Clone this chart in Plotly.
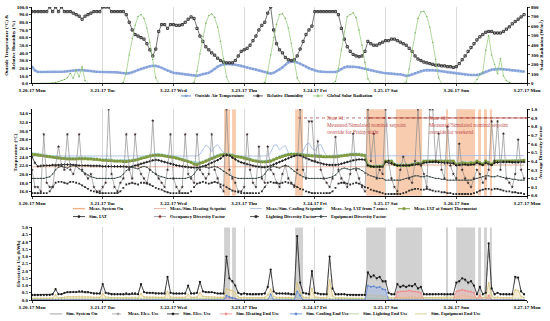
import pandas as pd
import plotly.graph_objects as go

FONT = "Liberation Serif"
START = pd.Timestamp("2017-03-20 00:00")
HOURS = pd.date_range(START, periods=168, freq="h")
DAY_TICKS = pd.date_range(START, periods=8, freq="D")
DAY_LABELS = ["3-20-17 Mon", "3-21-17 Tue", "3-22-17 Wed", "3-23-17 Thu",
              "3-24-17 Fri", "3-25-17 Sat", "3-26-17 Sun", "3-27-17 Mon"]

# ---------------- Panel 1 data (hourly) ----------------
OAT = [
    22, 17, 15, 15, 15, 15, 15, 15, 15, 15, 15, 15.5, 16, 16.5, 17, 17.5, 17.5, 17.5, 17, 16.5, 16, 15.5, 15, 15,
    15, 15, 15, 15, 15, 14.5, 14, 13.5, 13, 13.5, 14.5, 16, 17.5, 19, 20.5, 21.5, 22.5, 23, 23, 22, 20.5, 18.5, 16.5, 15,
    14, 13.5, 13, 12.5, 12, 11.5, 11, 10.5, 10, 11, 12.5, 13, 14, 16, 19, 22, 24, 25, 25.5, 25.5, 25, 24.5, 24, 23,
    22, 21, 20, 19, 18, 17, 16, 15, 13.5, 13, 14, 16, 18, 21, 24.5, 27.5, 28.5, 28.5, 27.5, 26, 24, 22, 20, 18.5,
    17, 16, 15.5, 15, 15, 15, 15, 15, 16.5, 19, 21, 22, 22, 22, 21.5, 21, 20, 19, 18, 17, 16, 15, 14.5, 14,
    13.5, 13, 13, 12.5, 12, 12, 11, 10, 10.5, 12, 13.5, 15, 16.5, 17, 17.5, 17.5, 17.5, 17, 16.5, 16, 15, 14.5, 14, 13.5,
    13, 12.5, 12, 11.5, 11, 11, 11, 11, 12, 13.5, 15.5, 17, 18, 18.5, 19, 19, 18.5, 18, 18, 17.5, 17, 17, 16, 15.5,
]
RH = [
    94, 94, 94, 94, 94, 94, 100, 94, 100, 94, 100, 94, 94, 94, 92, 90, 88, 84, 88, 90, 92, 94, 94, 94,
    100, 100, 100, 94, 94, 94, 94, 94, 90, 80, 70, 64, 62, 60, 58, 52, 44, 36, 45, 68, 77, 77, 72, 77,
    77, 76, 76, 77, 80, 84, 87, 85, 72, 62, 55, 48, 44, 40, 37, 33, 30, 28, 27, 27, 27, 30, 36, 42,
    44, 46, 50, 56, 62, 70, 76, 80, 92, 100, 70, 52, 44, 40, 34, 31, 30, 31, 36, 45, 55, 64, 70, 75,
    94, 94, 94, 94, 94, 94, 94, 94, 90, 72, 58, 48, 42, 38, 36, 35, 36, 42, 55, 52, 50, 50, 52, 54,
    56, 56, 58, 58, 56, 54, 52, 50, 46, 42, 36, 32, 30, 28, 27, 26, 25, 24, 24, 23, 23, 22, 22, 21,
    22, 26, 31, 36, 42, 47, 52, 57, 61, 64, 67, 68, 68, 66, 66, 66, 68, 71, 74, 78, 81, 84, 87, 90,
]
SOLAR = [
    0, 0, 0, 0, 0, 0, 0, 5, 10, 20, 30, 40, 60, 105, 55, 140, 70, 175, 30, 0, 0, 0, 0, 0,
    0, 0, 0, 0, 0, 0, 0, 10, 120, 300, 470, 610, 700, 720, 680, 580, 430, 250, 60, 0, 0, 0, 0, 0,
    0, 0, 0, 0, 0, 0, 0, 10, 130, 310, 490, 630, 710, 730, 690, 590, 440, 260, 70, 0, 0, 0, 0, 0,
    0, 0, 0, 0, 0, 0, 0, 10, 120, 300, 480, 620, 720, 730, 680, 580, 420, 240, 60, 0, 0, 0, 0, 0,
    0, 0, 0, 0, 0, 0, 0, 20, 160, 350, 540, 700, 720, 740, 690, 560, 400, 220, 50, 0, 0, 0, 0, 0,
    0, 0, 0, 0, 0, 0, 0, 15, 150, 340, 530, 680, 750, 755, 700, 590, 430, 250, 60, 0, 0, 0, 0, 0,
    0, 0, 0, 0, 0, 0, 0, 40, 90, 120, 350, 500, 300, 200, 100, 260, 80, 30, 10, 0, 0, 0, 0, 0,
]

# ---------------- Panel 2 data (hourly) ----------------
# system-on periods, hours from 3-20-17 00:00
SYSTEM_ON = [(65.2, 67.2), (67.9, 69.2), (89.3, 92.0), (113.4, 120.1), (123.5, 132.4),
             (140.5, 141.2), (144.2, 150.4), (151.4, 152.4), (153.4, 154.4), (155.4, 156.1)]
HEAT_SP = [
    21.7, 21.7, 21.7, 21.7, 21.7, 21.7, 21.7, 21.7, 21.7, 21.7, 21.7, 21.7, 21.7, 21.7, 21.7, 21.7, 21.7, 21.7, 21.7, 21.7, 21.7, 21.7, 21.7, 21.7,
    21.7, 21.7, 21.7, 21.7, 21.7, 21.7, 21.7, 21.7, 21.7, 21.7, 21.7, 21.7, 21.7, 21.7, 21.7, 21.7, 21.7, 21.7, 21.7, 21.7, 21.7, 21.7, 21.7, 21.7,
    21.7, 21.7, 21.7, 21.7, 21.7, 21.7, 21.7, 21.7, 21.7, 21.7, 21.7, 21.7, 21.7, 21.7, 21.7, 21.7, 21.7, 21.7, 21.7, 21.7, 21.7, 21.7, 21.7, 21.7,
    21.7, 21.7, 21.7, 21.7, 21.7, 21.7, 21.7, 21.7, 21.7, 21.7, 21.7, 21.7, 21.7, 21.7, 21.7, 21.7, 21.7, 21.7, 21.7, 21.7, 21.7, 21.7, 21.7, 21.7,
    21.7, 21.7, 21.7, 21.7, 21.7, 21.7, 21.7, 21.7, 21.7, 21.7, 21.7, 21.7, 21.7, 21.7, 21.7, 21.7, 21.7, 21.7, 21.7, 21.7, 21.7, 21.7, 21.7, 21.7,
    22.1, 22.1, 22.1, 22.1, 22.1, 22.1, 22.1, 22.1, 22.1, 22.1, 22.1, 22.1, 22.1, 22.1, 22.1, 22.1, 22.1, 22.1, 22.1, 22.1, 22.1, 22.1, 22.1, 22.1,
    22.1, 22.1, 22.1, 22.1, 22.1, 22.1, 22.1, 22.1, 22.1, 22.1, 22.1, 22.1, 22.1, 22.1, 22.1, 22.1, 22.1, 22.1, 22.1, 22.1, 22.1, 22.1, 22.1, 22.1,
]
COOL_SP = [
    24.2, 24.2, 24.2, 24.2, 24.2, 24.2, 24.2, 24.2, 24.2, 24.2, 24.2, 24.2, 24.2, 24.2, 24.2, 24.2, 24.2, 24.2, 24.2, 24.2, 24.2, 24.2, 24.2, 24.2,
    24.2, 24.2, 24.2, 24.2, 24.2, 24.2, 24.2, 24.2, 24.2, 24.2, 24.2, 24.2, 24.2, 24.2, 24.2, 24.2, 24.2, 24.2, 24.2, 24.2, 24.2, 24.2, 24.2, 24.2,
    24.2, 24.2, 24.2, 24.2, 24.2, 24.2, 24.2, 24.2, 24.2, 24.6, 25.8, 26.7, 26.2, 25.2, 26.4, 26.8, 25.8, 25.0, 24.4, 24.2, 24.2, 24.2, 24.2, 24.2,
    24.2, 24.2, 24.2, 24.2, 24.2, 24.2, 24.2, 24.2, 24.2, 25.0, 26.6, 26.8, 25.6, 26.2, 26.6, 25.0, 24.2, 24.2, 24.2, 24.2, 25.3, 26.8, 27.2, 26.0,
    25.4, 26.5, 26.9, 25.3, 24.2, 24.2, 24.2, 24.2, 24.2, 24.2, 24.2, 24.2, 24.2, 24.2, 24.2, 24.2, 24.2, 24.2, 24.2, 24.2, 24.2, 24.2, 24.2, 24.2,
    24.3, 24.3, 24.3, 24.3, 24.3, 24.3, 24.3, 24.3, 24.3, 24.3, 24.3, 24.3, 24.3, 24.3, 24.3, 24.3, 24.3, 24.3, 24.3, 24.3, 24.3, 24.3, 24.3, 24.3,
    24.3, 24.3, 24.3, 24.3, 24.3, 24.3, 24.3, 24.3, 24.3, 24.3, 24.3, 24.3, 24.3, 24.3, 24.3, 24.3, 24.3, 24.3, 24.3, 24.3, 24.3, 24.3, 24.3, 24.3,
]
IAT_AVG7 = [
    24.9, 24.8, 24.7, 24.6, 24.5, 24.4, 24.3, 24.2, 24.1, 24.0, 23.9, 23.9, 23.8, 23.8, 23.8, 23.8, 23.9, 23.9, 23.9, 23.8, 23.8, 23.7, 23.7, 23.6,
    23.5, 23.5, 23.4, 23.4, 23.3, 23.3, 23.3, 23.2, 23.2, 23.3, 23.4, 23.5, 23.7, 23.9, 24.1, 24.3, 24.5, 24.6, 24.7, 24.7, 24.6, 24.5, 24.4, 24.3,
    24.2, 24.0, 23.8, 23.6, 23.4, 23.2, 23.0, 22.8, 22.7, 22.8, 23.0, 23.3, 23.6, 23.9, 24.2, 24.5, 24.7, 24.8, 24.8, 24.7, 24.6, 24.4, 24.3, 24.2,
    24.0, 23.8, 23.6, 23.4, 23.3, 23.2, 23.1, 23.1, 23.2, 23.3, 23.6, 23.9, 24.2, 24.4, 24.6, 24.8, 24.9, 24.9, 24.9, 24.8, 24.7, 24.6, 24.6, 24.5,
    24.5, 24.4, 24.4, 24.3, 24.3, 24.3, 24.3, 24.3, 24.4, 24.5, 24.6, 24.7, 24.8, 24.8, 24.8, 24.8, 24.7, 24.6, 22.4, 22.1, 22.0, 22.0, 22.1, 22.1,
    23.2, 23.2, 23.2, 22.5, 22.3, 22.3, 22.3, 22.4, 22.3, 22.5, 22.6, 22.8, 22.7, 23.2, 23.2, 23.2, 23.2, 23.2, 23.2, 23.2, 23.2, 23.2, 23.2, 23.2,
    22.5, 22.7, 22.9, 22.8, 22.7, 22.9, 22.8, 23.2, 22.9, 22.5, 23.2, 22.9, 22.5, 23.2, 23.2, 23.2, 23.2, 23.2, 23.2, 23.2, 23.2, 23.2, 23.3, 23.4,
]
IAT_SMART = [
    24.6, 24.5, 24.4, 24.3, 24.2, 24.1, 24.0, 23.9, 23.8, 23.7, 23.6, 23.6, 23.5, 23.5, 23.5, 23.5, 23.6, 23.6, 23.6, 23.5, 23.5, 23.4, 23.4, 23.3,
    23.2, 23.2, 23.1, 23.1, 23.0, 23.0, 23.0, 22.9, 22.9, 23.0, 23.1, 23.2, 23.4, 23.6, 23.8, 24.0, 24.2, 24.3, 24.4, 24.4, 24.3, 24.2, 24.1, 24.0,
    23.9, 23.7, 23.5, 23.3, 23.1, 22.9, 22.7, 22.3, 22.2, 22.5, 22.7, 23.0, 23.3, 23.6, 23.9, 24.2, 24.4, 24.5, 24.5, 24.4, 24.3, 24.1, 24.0, 23.9,
    23.7, 23.5, 23.3, 23.1, 23.0, 22.9, 22.8, 22.8, 22.9, 23.0, 23.3, 23.6, 23.9, 24.1, 24.3, 24.5, 24.6, 24.6, 24.6, 24.5, 24.4, 24.3, 24.3, 24.2,
    24.2, 24.1, 24.1, 24.0, 24.0, 24.0, 24.0, 24.0, 24.1, 24.2, 24.3, 24.4, 24.5, 24.5, 24.5, 24.5, 24.4, 24.3, 22.0, 21.8, 21.7, 21.7, 21.8, 21.8,
    23.0, 23.0, 23.0, 22.2, 22.0, 22.0, 22.0, 22.1, 22.0, 22.2, 22.3, 22.5, 22.4, 23.0, 23.0, 23.0, 23.0, 23.0, 23.0, 23.0, 23.0, 23.0, 23.0, 23.0,
    22.2, 22.4, 22.6, 22.5, 22.4, 22.6, 22.5, 23.0, 22.6, 22.2, 23.0, 22.6, 22.2, 23.0, 23.0, 23.0, 23.0, 23.0, 23.0, 23.0, 23.0, 23.0, 23.1, 23.2,
]
SIM_IAT = [
    24.0, 22.6, 21.8, 21.9, 22.0, 22.0, 22.0, 22.1, 22.1, 22.1, 22.2, 22.2, 22.2, 22.2, 22.1, 22.1, 22.0, 22.0, 22.0, 22.0, 21.9, 21.9, 21.9, 21.9,
    21.8, 21.8, 21.8, 21.8, 21.8, 21.8, 21.8, 21.8, 21.7, 21.6, 21.8, 22.0, 22.2, 22.4, 22.6, 22.8, 23.0, 23.2, 23.3, 23.2, 23.0, 22.8, 22.6, 22.4,
    22.2, 22.0, 21.9, 21.8, 21.7, 21.6, 21.5, 21.5, 21.5, 21.6, 21.8, 22.0, 22.3, 22.6, 22.9, 23.2, 23.6, 24.2, 24.4, 24.3, 23.8, 23.4, 23.0, 22.7,
    22.5, 22.3, 22.1, 21.9, 21.8, 21.7, 21.6, 21.6, 21.7, 21.9, 22.2, 22.5, 22.8, 23.1, 23.4, 23.7, 24.0, 24.2, 24.4, 24.3, 24.0, 23.7, 23.4, 23.1,
    22.9, 22.7, 22.5, 22.3, 22.2, 22.1, 22.1, 22.1, 22.2, 22.4, 22.6, 22.8, 23.0, 23.2, 23.3, 23.4, 23.4, 23.3, 22.0, 21.8, 21.7, 21.7, 21.7, 21.7,
    22.8, 22.6, 22.5, 22.2, 22.0, 22.0, 22.0, 22.0, 22.0, 22.1, 22.2, 22.3, 22.3, 22.6, 22.7, 22.8, 22.8, 22.8, 22.7, 22.7, 22.6, 22.6, 22.5, 22.5,
    22.0, 22.1, 22.2, 22.2, 22.1, 22.2, 22.2, 22.6, 22.3, 22.1, 22.6, 22.3, 22.1, 22.6, 22.7, 22.8, 22.8, 22.8, 22.8, 22.7, 22.7, 22.7, 22.8, 22.8,
]
OCC_DF = [
    0.30, 0.10, 0.10, 0.05, 0.71, 0.15, 0.10, 0.10, 0.35, 0.57, 0.35, 0.30, 0.71, 0.30, 0.25, 0.35, 0.71, 0.30, 0.25, 0.20, 0.25, 0.10, 0.05, 0.05,
    0.10, 0.15, 1.00, 0.25, 0.10, 0.05, 0.15, 0.20, 0.71, 0.30, 0.20, 0.71, 0.35, 0.25, 0.20, 0.15, 0.30, 0.87, 0.25, 0.20, 0.15, 0.10, 0.30, 0.71,
    0.20, 0.10, 0.05, 0.10, 0.71, 0.25, 0.20, 0.15, 0.71, 0.30, 0.25, 0.20, 0.25, 0.71, 0.30, 0.20, 0.10, 0.05, 1.00, 0.30, 0.20, 0.15, 0.05, 0.05,
    0.10, 0.71, 0.30, 0.15, 0.10, 0.57, 0.20, 0.15, 0.57, 0.30, 0.25, 0.15, 0.10, 0.25, 0.35, 0.20, 0.15, 0.10, 0.30, 1.00, 0.30, 0.20, 0.86, 0.86,
    0.40, 0.63, 0.30, 0.20, 0.15, 0.10, 0.20, 0.68, 0.30, 0.20, 0.15, 0.10, 0.25, 0.72, 0.30, 0.20, 0.10, 0.05, 1.00, 0.40, 0.72, 0.20, 0.30, 0.25,
    1.00, 0.40, 0.20, 0.10, 0.05, 0.30, 0.45, 0.35, 0.20, 0.15, 0.40, 1.00, 0.35, 0.25, 0.10, 1.00, 1.00, 0.40, 0.72, 0.30, 0.20, 0.80, 0.35, 0.25,
    0.20, 0.60, 0.30, 0.20, 0.15, 0.10, 0.20, 0.30, 0.25, 0.15, 0.20, 0.30, 0.86, 0.40, 0.86, 0.30, 0.72, 0.20, 0.15, 0.10, 0.25, 0.65, 0.30, 0.20,
]
LIGHT_DF = [
    0.03, 0.03, 0.03, 0.03, 0.03, 0.03, 0.05, 0.10, 0.15, 0.16, 0.16, 0.15, 0.14, 0.16, 0.16, 0.15, 0.14, 0.12, 0.10, 0.08, 0.06, 0.05, 0.04, 0.03,
    0.03, 0.03, 0.03, 0.03, 0.03, 0.03, 0.05, 0.09, 0.13, 0.14, 0.15, 0.14, 0.13, 0.15, 0.15, 0.14, 0.13, 0.11, 0.09, 0.08, 0.07, 0.05, 0.04, 0.03,
    0.03, 0.03, 0.03, 0.03, 0.03, 0.03, 0.05, 0.10, 0.14, 0.15, 0.16, 0.15, 0.14, 0.15, 0.16, 0.15, 0.13, 0.12, 0.10, 0.08, 0.06, 0.05, 0.04, 0.03,
    0.03, 0.03, 0.03, 0.03, 0.03, 0.03, 0.05, 0.10, 0.15, 0.16, 0.15, 0.15, 0.14, 0.15, 0.16, 0.15, 0.14, 0.12, 0.10, 0.08, 0.07, 0.05, 0.04, 0.03,
    0.03, 0.03, 0.03, 0.03, 0.03, 0.03, 0.05, 0.09, 0.14, 0.15, 0.15, 0.14, 0.13, 0.14, 0.15, 0.14, 0.12, 0.10, 0.09, 0.07, 0.06, 0.05, 0.04, 0.03,
    0.02, 0.02, 0.02, 0.02, 0.02, 0.02, 0.03, 0.04, 0.06, 0.07, 0.08, 0.08, 0.07, 0.07, 0.08, 0.07, 0.06, 0.05, 0.05, 0.04, 0.04, 0.03, 0.03, 0.02,
    0.02, 0.02, 0.02, 0.02, 0.02, 0.02, 0.03, 0.04, 0.06, 0.07, 0.08, 0.08, 0.07, 0.08, 0.08, 0.07, 0.06, 0.05, 0.05, 0.04, 0.04, 0.03, 0.03, 0.02,
]
EQUIP_DF = [
    0.20, 0.20, 0.20, 0.20, 0.20, 0.21, 0.22, 0.25, 0.30, 0.33, 0.34, 0.33, 0.32, 0.34, 0.35, 0.34, 0.31, 0.28, 0.26, 0.24, 0.22, 0.21, 0.20, 0.20,
    0.20, 0.20, 0.20, 0.20, 0.20, 0.21, 0.22, 0.25, 0.29, 0.32, 0.33, 0.32, 0.31, 0.33, 0.34, 0.33, 0.30, 0.27, 0.25, 0.23, 0.22, 0.21, 0.20, 0.20,
    0.20, 0.20, 0.20, 0.20, 0.20, 0.21, 0.22, 0.25, 0.30, 0.33, 0.34, 0.33, 0.32, 0.33, 0.34, 0.33, 0.31, 0.28, 0.26, 0.24, 0.22, 0.21, 0.20, 0.20,
    0.20, 0.20, 0.20, 0.20, 0.20, 0.21, 0.22, 0.25, 0.30, 0.33, 0.34, 0.33, 0.32, 0.34, 0.35, 0.34, 0.31, 0.28, 0.26, 0.24, 0.22, 0.21, 0.20, 0.20,
    0.20, 0.20, 0.20, 0.20, 0.20, 0.21, 0.22, 0.24, 0.28, 0.31, 0.32, 0.31, 0.30, 0.31, 0.32, 0.31, 0.29, 0.26, 0.24, 0.23, 0.22, 0.21, 0.20, 0.20,
    0.18, 0.18, 0.18, 0.18, 0.18, 0.18, 0.19, 0.20, 0.21, 0.22, 0.23, 0.23, 0.22, 0.22, 0.23, 0.22, 0.21, 0.20, 0.20, 0.19, 0.19, 0.18, 0.18, 0.18,
    0.18, 0.18, 0.18, 0.18, 0.18, 0.18, 0.19, 0.20, 0.21, 0.22, 0.23, 0.23, 0.22, 0.22, 0.23, 0.22, 0.21, 0.20, 0.20, 0.19, 0.19, 0.18, 0.18, 0.18,
]

# ---------------- Panel 3 data (hourly, kWh) ----------------
SIM_ELEC = [
    0.35, 0.35, 0.35, 0.35, 0.35, 0.35, 0.35, 0.40, 0.75, 0.40, 0.40, 0.50, 0.55, 0.55, 0.55, 0.55, 0.60, 0.60, 0.55, 0.55, 0.50, 0.45, 0.45, 0.45,
    1.10, 0.50, 0.45, 0.40, 0.40, 0.40, 0.40, 0.40, 0.45, 0.40, 0.45, 0.45, 0.40, 1.10, 0.55, 0.50, 0.50, 0.50, 0.45, 0.45, 0.45, 0.45, 1.60, 0.50,
    0.45, 0.45, 0.45, 0.45, 0.45, 1.00, 0.45, 0.45, 0.50, 1.25, 0.60, 0.55, 0.55, 0.55, 0.50, 0.45, 0.45, 0.45, 3.00, 1.50, 1.30, 1.00, 0.50, 0.40,
    0.45, 0.40, 0.40, 0.40, 0.40, 0.40, 0.40, 0.45, 0.90, 2.10, 0.60, 0.45, 0.45, 0.45, 0.45, 0.45, 0.40, 0.40, 4.40, 1.20, 0.50, 0.45, 0.40, 2.00,
    0.50, 0.45, 0.40, 0.40, 0.40, 3.00, 0.80, 0.40, 0.40, 0.40, 0.40, 0.35, 0.35, 0.35, 0.35, 0.35, 0.35, 0.35, 1.90, 1.60, 1.70, 1.50, 1.60, 1.30,
    1.30, 0.50, 0.40, 0.40, 1.10, 0.90, 1.00, 0.90, 1.00, 0.95, 1.10, 0.80, 0.90, 0.40, 0.40, 0.40, 0.40, 0.40, 0.40, 0.40, 0.40, 0.40, 0.40, 0.40,
    1.20, 1.30, 1.50, 1.40, 1.20, 1.30, 1.00, 0.40, 0.90, 0.40, 0.50, 3.90, 0.80, 0.40, 0.50, 0.40, 0.40, 0.40, 0.40, 0.40, 1.60, 1.55, 0.60, 0.40,
]
MEAS_ELEC = [
    0.30, 0.30, 0.30, 0.30, 0.30, 0.30, 0.32, 0.35, 0.70, 0.38, 0.38, 0.45, 0.50, 0.50, 0.52, 0.52, 0.55, 0.55, 0.50, 0.50, 0.45, 0.40, 0.40, 0.40,
    1.00, 0.45, 0.40, 0.35, 0.35, 0.35, 0.35, 0.35, 0.40, 0.38, 0.40, 0.40, 0.38, 1.05, 0.50, 0.45, 0.45, 0.45, 0.42, 0.40, 0.40, 0.40, 1.50, 0.45,
    0.40, 0.40, 0.40, 0.40, 0.40, 0.95, 0.40, 0.40, 0.45, 1.20, 0.55, 0.50, 0.50, 0.50, 0.45, 0.40, 0.40, 0.40, 2.80, 1.40, 1.20, 0.90, 0.45, 0.35,
    0.40, 0.35, 0.35, 0.35, 0.35, 0.35, 0.35, 0.40, 0.85, 2.00, 0.55, 0.40, 0.40, 0.40, 0.40, 0.40, 0.35, 0.35, 4.20, 1.10, 0.45, 0.40, 0.35, 1.90,
    0.45, 0.40, 0.35, 0.35, 0.35, 2.90, 0.75, 0.35, 0.35, 0.35, 0.35, 0.30, 0.30, 0.30, 0.30, 0.30, 0.30, 0.30, 1.80, 1.50, 1.60, 1.40, 1.50, 1.20,
    1.20, 0.45, 0.35, 0.35, 1.00, 0.85, 0.95, 0.85, 0.95, 0.90, 1.00, 0.75, 0.85, 0.35, 0.35, 0.35, 0.35, 0.35, 0.35, 0.35, 0.35, 0.35, 0.35, 0.35,
    1.10, 1.20, 1.40, 1.30, 1.10, 1.20, 0.95, 0.35, 0.85, 0.35, 0.45, 3.70, 0.75, 0.35, 0.45, 0.35, 0.35, 0.35, 0.35, 0.35, 1.50, 1.45, 0.55, 0.35,
]
HEAT_END = [
    0, 0, 0, 0, 0, 0, 0, 0, 0, 0, 0, 0, 0, 0, 0, 0, 0, 0, 0, 0, 0, 0, 0, 0,
    0, 0, 0, 0, 0, 0, 0, 0, 0, 0, 0, 0, 0, 0, 0, 0, 0, 0, 0, 0, 0, 0, 0, 0,
    0, 0, 0, 0, 0, 0, 0, 0, 0, 0, 0, 0, 0, 0, 0, 0, 0, 0, 0.15, 0.15, 0.10, 0.10, 0, 0,
    0, 0, 0, 0, 0, 0, 0, 0, 0, 0, 0, 0, 0, 0, 0, 0, 0, 0, 0, 0, 0, 0, 0, 0,
    0, 0, 0, 0, 0, 0, 0, 0, 0, 0, 0, 0, 0, 0, 0, 0, 0, 0, 0, 0, 0, 0, 0, 0,
    0, 0, 0, 0, 0.55, 0.60, 0.60, 0.60, 0.65, 0.60, 0.60, 0.55, 0.50, 0, 0, 0, 0, 0, 0, 0, 0, 0, 0, 0,
    0.60, 0.65, 0.70, 0.65, 0.60, 0.60, 0.50, 0, 0.30, 0, 0, 0.30, 0, 0, 0, 0, 0, 0, 0, 0, 0, 0, 0, 0,
]
COOL_END = [
    0, 0, 0, 0, 0, 0, 0, 0, 0, 0, 0, 0, 0, 0, 0, 0, 0, 0, 0, 0, 0, 0, 0, 0,
    0, 0, 0, 0, 0, 0, 0, 0, 0, 0, 0, 0, 0, 0, 0, 0, 0, 0, 0, 0, 0, 0, 0, 0,
    0, 0, 0, 0, 0, 0, 0, 0, 0, 0, 0, 0, 0, 0, 0, 0, 0, 0, 0.30, 0.20, 0.15, 0.10, 0, 0,
    0, 0, 0, 0, 0, 0, 0, 0, 0, 0.40, 0, 0, 0, 0, 0, 0, 0, 0, 0.60, 0.30, 0, 0, 0, 0,
    0, 0, 0, 0, 0, 0, 0, 0, 0, 0, 0, 0, 0, 0, 0, 0, 0, 0, 1.00, 0.90, 0.95, 0.85, 0.90, 0.75,
    0.70, 0, 0, 0, 0, 0, 0, 0, 0, 0, 0, 0, 0, 0, 0, 0, 0, 0, 0, 0, 0, 0, 0, 0,
    0, 0, 0, 0, 0, 0, 0, 0, 0, 0, 0, 0, 0, 0, 0, 0, 0, 0, 0, 0, 0, 0, 0, 0,
]
LIGHT_END = [
    0.05, 0.05, 0.05, 0.05, 0.05, 0.05, 0.06, 0.07, 0.08, 0.08, 0.08, 0.08, 0.08, 0.08, 0.08, 0.08, 0.08, 0.08, 0.07, 0.06, 0.06, 0.05, 0.05, 0.05,
    0.05, 0.05, 0.05, 0.05, 0.05, 0.05, 0.06, 0.07, 0.08, 0.08, 0.08, 0.08, 0.08, 0.08, 0.08, 0.08, 0.08, 0.08, 0.07, 0.06, 0.06, 0.05, 0.05, 0.05,
    0.05, 0.05, 0.05, 0.05, 0.05, 0.05, 0.06, 0.07, 0.08, 0.08, 0.08, 0.08, 0.08, 0.08, 0.08, 0.08, 0.08, 0.08, 0.15, 0.12, 0.10, 0.08, 0.05, 0.05,
    0.05, 0.05, 0.05, 0.05, 0.05, 0.05, 0.06, 0.07, 0.08, 0.10, 0.08, 0.08, 0.08, 0.08, 0.08, 0.08, 0.08, 0.08, 0.18, 0.10, 0.06, 0.05, 0.05, 0.05,
    0.05, 0.05, 0.05, 0.05, 0.05, 0.10, 0.06, 0.07, 0.08, 0.08, 0.08, 0.08, 0.08, 0.08, 0.08, 0.08, 0.08, 0.08, 0.12, 0.10, 0.10, 0.10, 0.10, 0.08,
    0.08, 0.04, 0.04, 0.04, 0.08, 0.08, 0.08, 0.08, 0.08, 0.08, 0.08, 0.08, 0.08, 0.04, 0.04, 0.04, 0.04, 0.04, 0.04, 0.04, 0.04, 0.04, 0.04, 0.04,
    0.08, 0.08, 0.08, 0.08, 0.08, 0.08, 0.08, 0.04, 0.06, 0.04, 0.04, 0.15, 0.05, 0.04, 0.04, 0.04, 0.04, 0.04, 0.04, 0.04, 0.08, 0.08, 0.05, 0.04,
]
EQUIP_END = [
    0.12, 0.12, 0.12, 0.12, 0.12, 0.12, 0.12, 0.14, 0.35, 0.15, 0.15, 0.20, 0.22, 0.22, 0.22, 0.22, 0.25, 0.25, 0.22, 0.22, 0.20, 0.18, 0.18, 0.18,
    0.45, 0.20, 0.18, 0.15, 0.15, 0.15, 0.15, 0.15, 0.18, 0.15, 0.18, 0.18, 0.15, 0.45, 0.22, 0.20, 0.20, 0.20, 0.18, 0.18, 0.18, 0.18, 0.60, 0.20,
    0.18, 0.18, 0.18, 0.18, 0.18, 0.40, 0.18, 0.18, 0.20, 0.50, 0.25, 0.22, 0.22, 0.22, 0.20, 0.18, 0.18, 0.18, 0.75, 0.70, 0.65, 0.50, 0.20, 0.15,
    0.18, 0.15, 0.15, 0.15, 0.15, 0.15, 0.15, 0.18, 0.35, 0.75, 0.25, 0.18, 0.18, 0.18, 0.18, 0.18, 0.15, 0.15, 1.20, 0.50, 0.20, 0.18, 0.15, 0.80,
    0.20, 0.18, 0.15, 0.15, 0.15, 1.40, 0.30, 0.15, 0.15, 0.15, 0.15, 0.12, 0.12, 0.12, 0.12, 0.12, 0.12, 0.12, 0.35, 0.30, 0.30, 0.28, 0.30, 0.25,
    0.25, 0.20, 0.15, 0.15, 0.20, 0.18, 0.20, 0.18, 0.20, 0.18, 0.20, 0.15, 0.18, 0.15, 0.15, 0.15, 0.15, 0.15, 0.15, 0.15, 0.15, 0.15, 0.15, 0.15,
    0.20, 0.25, 0.30, 0.28, 0.25, 0.25, 0.20, 0.15, 0.35, 0.15, 0.20, 1.20, 0.30, 0.15, 0.20, 0.15, 0.15, 0.15, 0.15, 0.15, 0.70, 0.65, 0.25, 0.15,
]

for _s in (OAT, RH, SOLAR, HEAT_SP, COOL_SP, IAT_AVG7, IAT_SMART, SIM_IAT, OCC_DF, LIGHT_DF,
           EQUIP_DF, SIM_ELEC, MEAS_ELEC, HEAT_END, COOL_END, LIGHT_END, EQUIP_END):
    assert len(_s) == 168, len(_s)

# ---------------- geometry helpers (pixel -> paper) ----------------
W, H = 550, 321
ML, MR, MT, MB = 32, 23, 5, 21
PW, PH = W - ML - MR, H - MT - MB


def px_x(x):
    return (x - ML) / PW


def px_y(y):
    return (H - MB - y) / PH


def hour_ts(h):
    return START + pd.Timedelta(hours=h)


fig = go.Figure()


def add(y, axes, color, width=0.8, dash="solid", symbol="circle", msize=2, mcolor=None,
        fill=None, fillcolor=None, mode="lines+markers"):
    xa, ya = axes
    fig.add_trace(go.Scatter(
        x=HOURS, y=y, xaxis=xa, yaxis=ya, mode=mode,
        line=dict(color=color, width=width, dash=dash),
        marker=dict(symbol=symbol, size=msize, color=mcolor or color, line=dict(width=0)),
        fill=fill, fillcolor=fillcolor, showlegend=False, hoverinfo="skip"))


# Panel 1
add(OAT, ("x", "y"), "#9DB5E4", width=2.6, symbol="circle", msize=2.2, mcolor="#7F9BD6")
add(RH, ("x", "y"), "#3A3A3A", width=0.7, symbol="square-open", msize=2.2, mcolor="#3A3A3A")
add(SOLAR, ("x", "y2"), "#8CC873", width=0.7, symbol="triangle-up", msize=1.8, mcolor="#6FAE55")

# Panel 2
add(HEAT_SP, ("x2", "y3"), "#E9A98F", width=0.9, mode="lines")
add(COOL_SP, ("x2", "y3"), "#A9BCE6", width=0.9, mode="lines")
add(IAT_AVG7, ("x2", "y3"), "#8ED6D2", width=0.9, dash="dash", symbol="circle", msize=1.8)
add(IAT_SMART, ("x2", "y3"), "#9BB35A", width=2.4, symbol="square", msize=2.6, mcolor="#7E963E")
add(SIM_IAT, ("x2", "y3"), "#1A1A1A", width=0.8, symbol="cross", msize=2.2)
add(OCC_DF, ("x2", "y4"), "#8C8C8C", width=0.7, symbol="star", msize=2.6, mcolor="#3A2A2A")
add(LIGHT_DF, ("x2", "y4"), "#2B2B2B", width=0.7, dash="dash", symbol="square", msize=1.8)
add(EQUIP_DF, ("x2", "y4"), "#2F3F3F", width=0.7, symbol="triangle-up", msize=1.8)

# Panel 3
add(EQUIP_END, ("x3", "y5"), "#D8C37C", width=0.8, symbol="circle", msize=1.6,
    fill="tozeroy", fillcolor="rgba(230,215,160,0.45)")
add(LIGHT_END, ("x3", "y5"), "#A8CF8A", width=0.8, symbol="circle", msize=1.4)
add(HEAT_END, ("x3", "y5"), "#EE8A8A", width=0.8, symbol="cross", msize=1.8,
    fill="tozeroy", fillcolor="rgba(245,170,170,0.45)")
add(COOL_END, ("x3", "y5"), "#5B84D0", width=0.8, symbol="cross", msize=1.8,
    fill="tozeroy", fillcolor="rgba(150,180,230,0.45)")
add(MEAS_ELEC, ("x3", "y5"), "#A0A0A0", width=0.7, dash="dash", symbol="circle", msize=1.6)
add(SIM_ELEC, ("x3", "y5"), "#1A1A1A", width=0.8, symbol="circle", msize=2.2)

shapes = []
annotations = []

for a, b in SYSTEM_ON:
    shapes.append(dict(type="rect", xref="x2", yref="y3 domain", x0=hour_ts(a), x1=hour_ts(b),
                       y0=0, y1=1, fillcolor="rgba(244,176,132,0.65)", line=dict(width=0), layer="below"))
    shapes.append(dict(type="rect", xref="x3", yref="y5 domain", x0=hour_ts(a), x1=hour_ts(b),
                       y0=0, y1=1, fillcolor="rgba(190,190,190,0.7)", line=dict(width=0), layer="below"))

NOTE_COLOR = "#C0504D"
shapes.append(dict(type="line", xref="x2", yref="y4", x0=hour_ts(90.3), x1=hour_ts(168), y0=0.9, y1=0.9,
                   line=dict(color="#A0302D", width=0.7, dash="dot")))
for (a, b) in [(113.4, 120.1), (120.1, 168)]:
    annotations.append(dict(x=hour_ts(b), y=0.9, ax=hour_ts(a), ay=0.9, xref="x2", yref="y4",
                            axref="x2", ayref="y4", text="", showarrow=True, arrowside="end+start",
                            arrowhead=2, arrowsize=0.6, arrowwidth=0.7, arrowcolor="#A0302D"))
annotations.append(dict(x=px_x(325), y=px_y(124), xref="paper", yref="paper", xanchor="left",
                        yanchor="middle", align="left", showarrow=False,
                        text="Note #1:<br>Measured/Simulated nominal setpoint<br>override for Friday night",
                        font=dict(size=5.2, color=NOTE_COLOR, family=FONT, weight="normal")))
annotations.append(dict(x=px_x(427), y=px_y(124), xref="paper", yref="paper", xanchor="left",
                        yanchor="middle", align="left", showarrow=False,
                        text="Note #2:<br>Measured/Simulated nominal setpoint<br>override for weekend",
                        font=dict(size=5.2, color=NOTE_COLOR, family=FONT, weight="normal")))


def legend_item(x, y, label, color, width=1.0, dash="solid", marker=None, mcolor=None, seg=12):
    shapes.append(dict(type="line", xref="paper", yref="paper", x0=px_x(x), x1=px_x(x + seg),
                       y0=px_y(y), y1=px_y(y), line=dict(color=color, width=width, dash=dash)))
    if marker:
        c = x + seg / 2
        shapes.append(dict(type=marker, xref="paper", yref="paper", x0=px_x(c - 1.1), x1=px_x(c + 1.1),
                           y0=px_y(y + 1.1), y1=px_y(y - 1.1),
                           line=dict(color=mcolor or color, width=0.5), fillcolor=mcolor or color))
    annotations.append(dict(text=label, x=px_x(x + seg + 2), y=px_y(y), xref="paper", yref="paper",
                            xanchor="left", yanchor="middle", showarrow=False,
                            font=dict(size=4.6, family=FONT, color="#000000")))


# legend panel 1
legend_item(181, 94.5, "Outside Air Temperature", "#9DB5E4", 1.6, marker="circle", mcolor="#7F9BD6", seg=10)
legend_item(253, 94.5, "Relative Humidity", "#3A3A3A", 0.8, marker="rect", seg=10)
legend_item(313, 94.5, "Global Solar Radiation", "#8CC873", 0.8, marker="circle", seg=10)
# legend panel 2
cols2 = [73, 154, 250, 315, 398]
legend_item(cols2[0], 208, "Meas. System On", "#F4B084", 1.4)
legend_item(cols2[1], 208, "Meas./Sim. Heating Setpoint", "#E9A98F", 0.9)
legend_item(cols2[2], 208, "Meas./Sim. Cooling Setpoint", "#A9BCE6", 0.9)
legend_item(cols2[3], 208, "Meas. Avg. IAT from 7 zones", "#8ED6D2", 0.9, dash="dash", marker="circle")
legend_item(cols2[4], 208, "Meas. IAT at Smart Thermostat", "#9BB35A", 1.4, marker="rect", mcolor="#7E963E")
legend_item(cols2[0], 216, "Sim. IAT", "#1A1A1A", 0.8, marker="circle")
legend_item(cols2[1], 216, "Occupancy Diversity Factor", "#8C8C8C", 0.8, marker="circle", mcolor="#8B2A2A")
legend_item(cols2[2], 216, "Lighting Diversity Factor", "#2B2B2B", 0.8, dash="dash", marker="rect")
legend_item(cols2[3], 216, "Equipment Diversity Factor", "#2F3F3F", 0.8, marker="circle")
# legend panel 3
legend_item(50, 314, "Sim. System On", "#BFBFBF", 1.4)
legend_item(112, 314, "Meas. Elec. Use", "#A0A0A0", 0.8, dash="dash", marker="circle")
legend_item(167, 314, "Sim. Elec. Use", "#1A1A1A", 0.8, marker="circle")
legend_item(220, 314, "Sim. Heating End Use", "#EE8A8A", 0.8, marker="circle")
legend_item(290, 314, "Sim. Cooling End Use", "#5B84D0", 0.8, marker="circle")
legend_item(347, 314, "Sim. Lighting End Use", "#A8CF8A", 0.8)
legend_item(415, 314, "Sim. Equipment End Use", "#D8C37C", 0.8)

TICKFONT = dict(size=5, family=FONT, color="#000000")
xcommon = dict(type="date", range=[START, START + pd.Timedelta(days=7)], tickmode="array",
               tickvals=list(DAY_TICKS), ticktext=DAY_LABELS, showgrid=True, gridcolor="#D9D9D9",
               gridwidth=0.6, showline=True, linecolor="#000000", linewidth=0.8, ticks="outside",
               ticklen=2, tickwidth=0.6, tickfont=TICKFONT, zeroline=False)
ycommon = dict(showline=True, linecolor="#000000", linewidth=0.8, ticks="outside", ticklen=2,
               tickwidth=0.6, tickfont=TICKFONT, showgrid=False, zeroline=False)


def ytitle(text):
    return dict(text=text, font=dict(size=5, family=FONT, color="#000000"), standoff=1)


fig.update_layout(
    width=W, height=H, margin=dict(l=ML, r=MR, t=MT, b=MB),
    paper_bgcolor="white", plot_bgcolor="white", showlegend=False,
    font=dict(family=FONT, size=5, color="#000000", weight="bold"),
    xaxis=dict(domain=[0, 1], anchor="y", **xcommon),
    xaxis2=dict(domain=[0, 1], anchor="y3", **xcommon),
    xaxis3=dict(domain=[0, 1], anchor="y5", **xcommon),
    yaxis=dict(domain=[px_y(82), 1.0], anchor="x", range=[0, 100], dtick=10, tickformat=".1f",
               title=ytitle("Outside Temperature (°C) &<br>Relative Humidity (%)"), **ycommon),
    yaxis2=dict(overlaying="y", side="right", anchor="x", range=[0, 800], dtick=100, tickformat="d",
                title=ytitle("Solar Radiation (W/m²)"), **ycommon),
    yaxis3=dict(domain=[px_y(195), px_y(108)], anchor="x2", range=[15, 35], dtick=2, tickformat=".1f",
                title=ytitle("Temperature (°C)"), **ycommon),
    yaxis4=dict(overlaying="y3", side="right", anchor="x2", range=[0, 1], dtick=0.1, tickformat=".1f",
                title=ytitle("Average Diversity Factor"), **ycommon),
    yaxis5=dict(domain=[0, px_y(227)], anchor="x3", range=[0, 5], dtick=0.5, tickformat=".1f",
                title=ytitle("Electricity Use (kWh)"), **ycommon),
    shapes=shapes, annotations=annotations,
)

fig.write_html("out.html", config={"displayModeBar": False},
               post_script="document.body.style.margin='0';document.body.style.overflow='hidden';")
